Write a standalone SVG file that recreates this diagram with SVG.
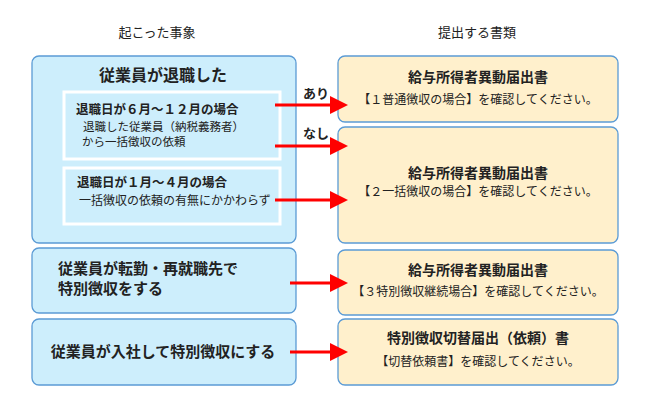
<svg xmlns="http://www.w3.org/2000/svg" width="650" height="410" viewBox="0 0 650 410">
<style>
text{font-family:"Noto Sans CJK JP","Noto Sans CJK SC",sans-serif;fill:#222}
.l{fill:#cdeefc;stroke:#5b9bd5;stroke-width:1.3}
.r{fill:#fff0cc;stroke:#5b9bd5;stroke-width:1.3}
.in{fill:#cdeefc;stroke:#fff;stroke-width:3}
.b{font-weight:bold}
.a{stroke:#f00;stroke-width:3;fill:none;marker-end:url(#ah)}
</style>
<defs><marker id="ah" markerWidth="6" markerHeight="6" refX="4" refY="3" orient="auto" markerUnits="strokeWidth"><path d="M0,0L6,3L0,6z" fill="#f00"/></marker></defs>
<rect width="650" height="410" fill="#fff"/>
<text x="157" y="37" font-size="13" text-anchor="middle" fill="#444">起こった事象</text>
<text x="477" y="37" font-size="13" text-anchor="middle" fill="#444">提出する書類</text>
<g id="left1">
<rect class="l" x="32" y="56" width="264" height="187" rx="7"/>
<text x="163" y="81" font-size="16" class="b" text-anchor="middle">従業員が退職した</text>
</g>
<g id="in1">
<rect class="in" x="64" y="92" width="216" height="67"/>
<text x="76" y="114" font-size="12.5" class="b">退職日が６月～１２月の場合</text>
<text x="83" y="131" font-size="11.5" fill="#333">退職した従業員（納税義務者）</text>
<text x="82" y="146" font-size="11.5" fill="#333">から一括徴収の依頼</text>
</g>
<g id="in2">
<rect class="in" x="64" y="168" width="216" height="56"/>
<text x="77" y="187" font-size="12.5" class="b">退職日が１月～４月の場合</text>
<text x="79" y="205" font-size="12" fill="#333">一括徴収の依頼の有無にかかわらず</text>
</g>
<g id="left2">
<rect class="l" x="32" y="248" width="264" height="65" rx="7"/>
<text x="58" y="274" font-size="15" class="b">従業員が転勤・再就職先で</text>
<text x="58" y="294" font-size="15" class="b">特別徴収をする</text>
</g>
<g id="left3">
<rect class="l" x="32" y="319" width="264" height="66" rx="7"/>
<text x="163" y="357" font-size="15" class="b" text-anchor="middle">従業員が入社して特別徴収にする</text>
</g>
<g id="right1">
<rect class="r" x="338" y="56" width="280" height="66" rx="7"/>
<text x="478" y="82" font-size="14" class="b" text-anchor="middle">給与所得者異動届出書</text>
<text x="478" y="104" font-size="12" text-anchor="middle">【１普通徴収の場合】を確認してください。</text>
</g>
<g id="right2">
<rect class="r" x="338" y="127" width="280" height="116" rx="7"/>
<text x="478" y="178" font-size="14" class="b" text-anchor="middle">給与所得者異動届出書</text>
<text x="478" y="196" font-size="12" text-anchor="middle">【２一括徴収の場合】を確認してください。</text>
</g>
<g id="right3">
<rect class="r" x="338" y="250" width="280" height="65" rx="7"/>
<text x="478" y="275" font-size="14" class="b" text-anchor="middle">給与所得者異動届出書</text>
<text x="478" y="296" font-size="12" text-anchor="middle">【３特別徴収継続場合】を確認してください。</text>
</g>
<g id="right4">
<rect class="r" x="338" y="319" width="280" height="66" rx="7"/>
<text x="478" y="343" font-size="14" class="b" text-anchor="middle">特別徴収切替届出（依頼）書</text>
<text x="478" y="366" font-size="12" text-anchor="middle">【切替依頼書】を確認してください。</text>
</g>
<g id="connectors">
<path class="a" d="M275,105H342"/>
<path class="a" d="M275,146H342"/>
<path class="a" d="M275,200H342"/>
<path class="a" d="M290,283H342"/>
<path class="a" d="M290,352H342"/>
<text x="303" y="98" font-size="13" class="b">あり</text>
<text x="303" y="138" font-size="13" class="b">なし</text>
</g>
</svg>
